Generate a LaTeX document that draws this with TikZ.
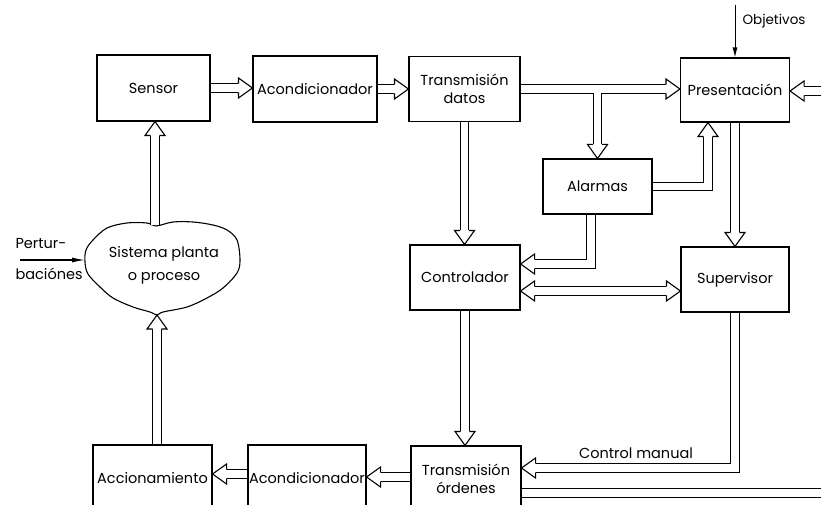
\documentclass[tikz,border=0pt]{standalone}
\usepackage{fontspec}
\setmainfont{Poppins}
\usetikzlibrary{calc,arrows.meta}
\tikzset{
  txt/.style={font=\fontsize{14.5}{18}\selectfont, align=center},
  box/.style={txt, draw, line width=1.1pt, fill=white, inner sep=1pt},
  outerline/.style={line width=9.7pt, black, line cap=butt, line join=miter},
  innerline/.style={line width=7.5pt, white, line cap=butt, line join=miter},
  headshape/.style={fill=white, draw=black, line width=1.1pt, line join=miter},
}
\newcommand\hd[2]{\begin{scope}[shift={(#1)}, rotate=#2]
  \filldraw[headshape] (-14,4.3) -- (-14,10) -- (0,0) -- (-14,-10) -- (-14,-4.3);
\end{scope}}
\begin{document}
\begin{tikzpicture}[x=1pt,y=-1pt]
\useasboundingbox (0,0) rectangle (821,505);
\fill[white] (0,0) rectangle (821,505);
\clip (0,0) rectangle (821,505);

% boxes
\node[box, minimum width=113pt, minimum height=66pt] (sensor) at (153.5,88) {Sensor};
\node[box, minimum width=124pt, minimum height=66pt] (acq1) at (315,89) {Acondicionador};
\node[box, minimum width=111pt, minimum height=65pt] (td) at (464.5,89) {Transmisión\\datos};
\node[box, minimum width=109pt, minimum height=64pt] (pres) at (735,90) {Presentación};
\node[box, minimum width=109pt, minimum height=55pt] (alarm) at (597.5,186.5) {Alarmas};
\node[box, minimum width=110pt, minimum height=65pt] (ctrl) at (465,277.5) {Controlador};
\node[box, minimum width=108pt, minimum height=65pt] (sup) at (735,279.5) {Supervisor};
\node[box, minimum width=110pt, minimum height=66pt] (to) at (466,479) {Transmisión\\órdenes};
\node[box, minimum width=118pt, minimum height=66pt] (acq2) at (307,478) {Acondicionador};
\node[box, minimum width=119pt, minimum height=66pt] (acc) at (152.5,478) {Accionamiento};

% plant / process cloud
\draw[line width=1.1pt] plot[smooth cycle, tension=0.55] coordinates {
 (86,250) (93,240) (107,228) (127,223) (147,223) (156,226) (173,222) (193,222)
 (213,225) (227,230) (237,240) (240,260) (237,273) (223,288) (207,298) (187,307)
 (163,312) (157,315) (150,312) (133,307) (113,298) (100,287) (88,274) (85,262)};
\node[txt, font=\fontsize{14.5}{23}\selectfont] (plant) at (164,265) {Sistema planta\\o proceso};

% coordinates
\coordinate (j1) at (alarm.north |- td.east);
\coordinate (a5end) at ([xshift=-27pt]pres.south);
\coordinate (a6start) at ([xshift=-6.5pt]alarm.south);
\coordinate (a6end) at ([yshift=13.5pt]ctrl.east);
\coordinate (c1) at ([yshift=-13.5pt]ctrl.east);
\coordinate (c2) at (c1 -| sup.west);
\coordinate (a10end) at ([yshift=11pt]to.east);
\coordinate (a11s) at ([yshift=2pt]to.west);
\coordinate (a12s) at ([yshift=4pt]acq2.west);
\coordinate (cloudtop) at (155,225);
\coordinate (cloudbot) at (157,315);
\coordinate (cloudleft) at (85,260);
\coordinate (pstart) at (20,260);
\coordinate (rin) at (821,91);
\coordinate (rout) at ([yshift=-14pt]to.east);
\coordinate (redge) at (821,0);
\coordinate (objs) at (735,5);

\newcommand\conns[1]{%
\draw[#1, shorten >=14pt] (sensor.east) -- (sensor.east -| acq1.west);
\draw[#1, shorten >=14pt] (acq1.east) -- (acq1.east -| td.west);
\draw[#1, shorten >=14pt] (td.east) -- (td.east -| pres.west);
\draw[#1, shorten >=14pt] (j1) -- (alarm.north);
\draw[#1, shorten >=14pt] (td.south) -- (td.south |- ctrl.north);
\draw[#1, shorten >=14pt] (alarm.east) -| (a5end);
\draw[#1, shorten >=14pt] (a6start) |- (a6end);
\draw[#1, shorten >=14pt, shorten <=14pt] (c1) -- (c2);
\draw[#1, shorten >=14pt] (pres.south) -- (pres.south |- sup.north);
\draw[#1, shorten >=14pt] (ctrl.south) -- (ctrl.south |- to.north);
\draw[#1, shorten >=14pt] (sup.south) |- (a10end);
\draw[#1, shorten >=14pt] (a11s) -- (a11s -| acq2.east);
\draw[#1, shorten >=14pt] (a12s) -- (a12s -| acc.east);
\draw[#1, shorten >=14pt] (cloudbot |- acc.north) -- (cloudbot);
\draw[#1, shorten >=14pt] (cloudtop) -- (cloudtop |- sensor.south);
\draw[#1, shorten >=14pt] (rin) -- (rin -| pres.east);
\draw[#1] (rout) -- (rout -| redge);
}
\conns{outerline}
\conns{innerline}

% heads
\hd{sensor.east -| acq1.west}{0}
\hd{acq1.east -| td.west}{0}
\hd{td.east -| pres.west}{0}
\hd{alarm.north}{270}
\hd{td.south |- ctrl.north}{270}
\hd{a5end}{90}
\hd{a6end}{180}
\hd{c1}{180}
\hd{c2}{0}
\hd{pres.south |- sup.north}{270}
\hd{ctrl.south |- to.north}{270}
\hd{a10end}{180}
\hd{a11s -| acq2.east}{180}
\hd{a12s -| acc.east}{180}
\hd{cloudbot}{90}
\hd{cloudtop |- sensor.south}{90}
\hd{rin -| pres.east}{180}

% labels and thin arrows
\node[txt] (cm) at (636,453) {Control manual};
\node[txt, anchor=west] (p1) at (12,244) {Pertur-};
\node[txt, anchor=west] (p2) at (12,274) {baciónes};
\draw[line width=1.2pt, -{Latex[length=13pt,width=5pt]}] (pstart) -- (cloudleft);
\draw[line width=1pt, -{Latex[length=10pt,width=5pt]}] (objs) -- (pres.north);
\node[txt, font=\fontsize{13.5}{16}\selectfont, anchor=west] (objl) at (739,21) {Objetivos};
\end{tikzpicture}
\end{document}
